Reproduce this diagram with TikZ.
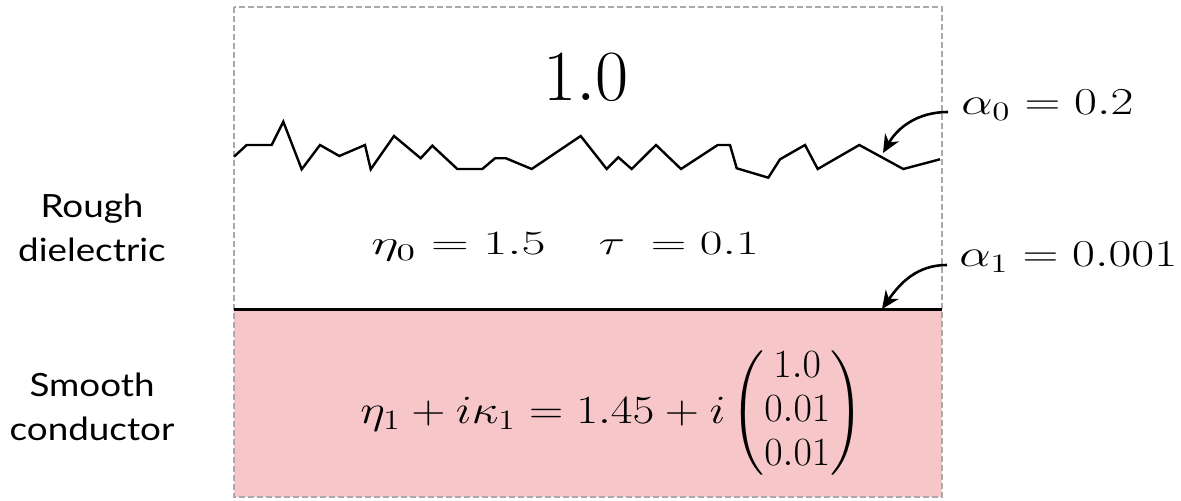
\RequirePackage{fix-cm}
\documentclass[tikz,border=0pt]{standalone}
\usepackage{amsmath}
\usepackage{graphicx}
\usepackage{fontspec}
\newfontfamily\labelfont[FakeStretch=1.15]{Lato}
\usetikzlibrary{arrows.meta}
\definecolor{condpink}{RGB}{247,198,201}
\definecolor{boxgray}{RGB}{170,170,170}
\tikzset{
  eq/.style={inner sep=0pt},
  side/.style={inner sep=0pt, align=center, font=\labelfont\fontsize{16}{21.8}\selectfont},
  pointer/.style={line width=1.3pt, -{Stealth[length=9pt,width=8pt]}},
  rough/.style={line width=1.2pt, line join=miter},
}
\begin{document}
\begin{tikzpicture}[x=0.5pt,y=-0.5pt]
\useasboundingbox (0,0) rectangle (1181,501);
% conductor fill
\fill[condpink] (234,310) rectangle (942,497);
% dashed frame
\draw[boxgray, line width=0.7pt, dash pattern=on 3pt off 1.5pt] (234,7) rectangle (942,497);
% smooth interface
\draw[line width=1.5pt] (234,310) -- (942,310);
% rough interface
\draw[rough] (234,156.7) -- (246.7,145) -- (271.7,145) -- (283.3,121.7) -- (301.7,169.3) -- (320,145) -- (339.3,156) -- (365,145) -- (370.7,169.3) -- (394,136) -- (420.7,158.3) -- (432.3,145.7) -- (457.3,169) -- (482.3,169) -- (495,158.3) -- (506,158.3) -- (531.7,169) -- (580.7,136) -- (606.7,169) -- (618.3,157.3) -- (631.7,169) -- (656,145) -- (681,169) -- (717.7,145) -- (730,145) -- (736.7,168.3) -- (768.3,177.7) -- (780,159.3) -- (805,145) -- (817.7,169) -- (859.3,145) -- (903.3,169) -- (940,159.3);
% texts
\node[inner sep=0pt, anchor=base, font=\fontsize{36}{40}\selectfont] (top) at (586,101) {$1.0$};
\node[eq, anchor=base west, font=\fontsize{17}{20}\selectfont] (diel) at (371,255)
  {\scalebox{1.54}[1]{$\eta_0 = 1.5$}\hspace{26.5pt}\scalebox{1.45}[1]{$\tau\hspace{0.245em}= 0.1$}};
\node[eq, anchor=base west, font=\fontsize{20}{22}\selectfont] (cond) at (360,423)
  {\scalebox{1.185}[1]{$\eta_1 + i\kappa_1 = 1.45 + i$}\hspace{3pt}$\begin{pmatrix}1.0\\0.01\\0.01\end{pmatrix}$};
\node[eq, anchor=base west, font=\fontsize{19}{22}\selectfont] (a0) at (961,115)
  {\scalebox{1.31}[1]{$\alpha_0 = 0.2$}};
\node[eq, anchor=base west, font=\fontsize{19}{22}\selectfont] (a1) at (959,267)
  {\scalebox{1.31}[1]{$\alpha_1 = 0.001$}};
\node[side] (rd) at (92,228) {Rough\\dielectric};
\node[side] (sc) at (92,407) {Smooth\\conductor};
% pointers
\coordinate (a0s) at (948,112);
\coordinate (a0t) at (883,153);
\coordinate (a1s) at (947,265);
\coordinate (a1t) at (882,309);
\draw[pointer] (a0s) to[out=180,in=60] (a0t);
\draw[pointer] (a1s) to[out=180,in=55] (a1t);
\end{tikzpicture}
\end{document}
